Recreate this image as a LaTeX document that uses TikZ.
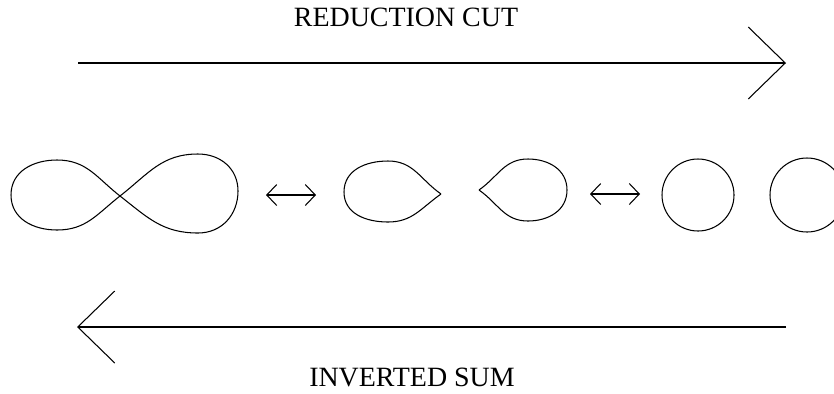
\documentclass[tikz,border=0pt]{standalone}
\usepackage{fontspec}
\setmainfont{Liberation Serif}
\usepackage{tikz}
\usetikzlibrary{arrows.meta}
\tikzset{
  label/.style={font=\fontsize{15.9}{19}\selectfont, inner sep=0pt},
  bigarrow/.style={-{Straight Barb[length=0.74cm, width=1.44cm]}, line width=0.6pt},
  swap/.style={{Straight Barb[length=0.2cm, width=0.42cm]}-{Straight Barb[length=0.2cm, width=0.42cm]}, line width=0.6pt},
  curve/.style={line width=0.6pt, looseness=1.05}
}

\begin{document}
\begin{tikzpicture}[x=0.02cm, y=-0.02cm]
  \clip (0,0) rectangle (834,393);

  % top arrow
  \node[label] (redlbl) at (406,17) {REDUCTION CUT};
  \coordinate (redL) at (78,63);
  \coordinate (redR) at (786,63);
  \draw[bigarrow] (redL) -- (redR);

  % bottom arrow
  \node[label] (invlbl) at (412,377) {INVERTED SUM};
  \coordinate (invR) at (786,327);
  \coordinate (invL) at (77,327);
  \draw[bigarrow] (invR) -- (invL);

  % figure eight
  \draw[curve] (120,196) to[out=38,in=180] (198,154) to[out=0,in=90] (238,191)
    to[out=-90,in=0] (198,233) to[out=180,in=-38] (120,196)
    to[out=142,in=0] (57,160) to[out=180,in=90] (11,195)
    to[out=-90,in=180] (57,230) to[out=0,in=-142] (120,196);

  % first swap
  \coordinate (swapAL) at (266,195);
  \coordinate (swapAR) at (316,195);
  \draw[swap] (swapAL) -- (swapAR);

  % teardrops
  \draw[curve] (441,194) to[out=145,in=0] (388,161) to[out=180,in=90] (344,192)
    to[out=-90,in=180] (388,222) to[out=0,in=-145] (441,194);
  \draw[curve] (479,190) to[out=35,in=180] (528,159) to[out=0,in=90] (567,190)
    to[out=-90,in=0] (528,221) to[out=180,in=-35] (479,190);

  % second swap
  \coordinate (swapBL) at (590,194);
  \coordinate (swapBR) at (640,194);
  \draw[swap] (swapBL) -- (swapBR);

  % circles
  \draw[curve] (698,195) circle[radius=36];
  \draw[curve] (807,195) circle[radius=37];
\end{tikzpicture}
\end{document}
